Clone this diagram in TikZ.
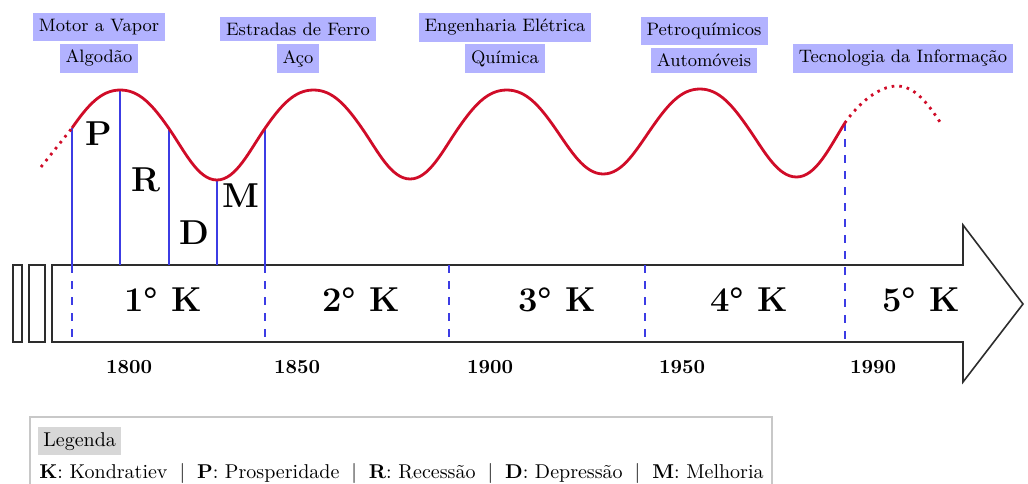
\documentclass[tikz,border=0pt]{standalone}
\usepackage{fontspec}
\usetikzlibrary{positioning}
\definecolor{wave}{RGB}{208,12,40}
\definecolor{phase}{RGB}{60,60,228}
\definecolor{tag}{RGB}{178,178,255}
\definecolor{outl}{RGB}{45,45,45}
\definecolor{leggray}{RGB}{215,215,215}
\definecolor{legline}{RGB}{200,200,200}
\newcommand{\legsep}{\hspace{6pt}$|$\hspace{6pt}}
\begin{document}
\begin{tikzpicture}[x=0.5pt,y=-0.5pt,
  tagbox/.style={fill=tag, inner sep=3pt, font=\small},
  klabel/.style={font=\LARGE\bfseries},
  yearlabel/.style={font=\bfseries},
  phaselabel/.style={font=\LARGE\bfseries},
  phaseline/.style={phase, line width=1.1pt},
  phasedash/.style={phase, line width=1.1pt, dash pattern=on 4pt off 4pt},
  wavepath/.style={wave, line width=1.4pt},
  wavedots/.style={wave, line width=1.4pt, dash pattern=on 1.3pt off 2.5pt},
  arrowline/.style={outl, line width=0.8pt}
]
\useasboundingbox (0,0) rectangle (1028,483);
\clip (0,0) rectangle (1028,483);

% timeline arrow
\coordinate (atop) at (52,265);
\coordinate (abot) at (52,342);
\draw[arrowline, fill=white] (52,265) -- (963,265) -- (963,225) -- (1023,304) -- (963,382) -- (963,342) -- (52,342) -- cycle;
\draw[arrowline] (13,265) rectangle (22,342);
\draw[arrowline] (29,265) rectangle (45,342);

% wave coordinates
\coordinate (w0) at (72,128);
\coordinate (w1) at (120.3,90);
\coordinate (w2) at (168.6,128);
\coordinate (w3) at (216.9,180);
\coordinate (w4) at (265.2,128);
\coordinate (w16) at (844.8,123);
\coordinate (e3) at (449,265);
\coordinate (e4) at (645,265);

% phase lines
\foreach \w in {w0,w1,w2,w3,w4}{
  \draw[phaseline] (\w) -- (\w |- atop);
}
\foreach \w in {w0,w4}{
  \draw[phasedash] (\w |- atop) -- (\w |- abot);
}
\draw[phasedash] (e3) -- (e3 |- abot);
\draw[phasedash] (e4) -- (e4 |- abot);
\draw[phasedash] (w16) -- (w16 |- abot);

% wave
\draw[wavedots] (41,167) -- (w0);
\draw[wavepath, line join=round] (w0)
  .. controls +(16,-23) and +(-19,0) .. (w1)
  .. controls +(19,0) and +(-16,-23) .. (w2)
  .. controls +(16,23) and +(-19,0) .. (w3)
  .. controls +(19,0) and +(-16,23) .. (w4)
  .. controls +(16,-23) and +(-19,0) .. (313.5,90)
  .. controls +(19,0) and +(-16,-23) .. (361.8,128)
  .. controls +(16,23) and +(-19,0) .. (410.1,179)
  .. controls +(19,0) and +(-16,23) .. (458.4,128)
  .. controls +(16,-23) and +(-19,0) .. (506.7,90)
  .. controls +(19,0) and +(-16,-23) .. (555,128)
  .. controls +(16,23) and +(-19,0) .. (603.3,174)
  .. controls +(19,0) and +(-16,23) .. (651.6,128)
  .. controls +(16,-23) and +(-19,0) .. (699.9,89)
  .. controls +(19,0) and +(-16,-23) .. (748.2,128)
  .. controls +(16,23) and +(-19,0) .. (796.5,177)
  .. controls +(19,0) and +(-16,26) .. (w16);
\draw[wavedots] (w16)
  .. controls +(14,-20) and +(-18,0) .. (897,86)
  .. controls +(18,0) and +(-12,-18) .. (940,122);

% phase letters
\node[phaselabel] (P) at (99,134) {P};
\node[phaselabel] (R) at (146,180) {R};
\node[phaselabel] (D) at (194,233) {D};
\node[phaselabel] (M) at (241,196) {M};

% K labels
\node[klabel] (k1) at (163,300) {1° K};
\node[klabel] (k2) at (361,300) {2° K};
\node[klabel] (k3) at (557,300) {3° K};
\node[klabel] (k4) at (749,300) {4° K};
\node[klabel] (k5) at (921,300) {5° K};

% years
\node[yearlabel] (y1) at (129,367) {1800};
\node[yearlabel] (y2) at (297,367) {1850};
\node[yearlabel] (y3) at (490,367) {1900};
\node[yearlabel] (y4) at (682,367) {1950};
\node[yearlabel] (y5) at (873,367) {1990};

% innovation tags
\node[tagbox, anchor=south] (t1b) at (99,73) {Algodão};
\node[tagbox, above=1pt of t1b] (t1a) {Motor a Vapor};
\node[tagbox, anchor=south] (t2b) at (298,73) {Aço};
\node[tagbox, above=1pt of t2b] (t2a) {Estradas de Ferro};
\node[tagbox, anchor=south] (t3b) at (505,73) {Química};
\node[tagbox, above=1pt of t3b] (t3a) {Engenharia Elétrica};
\node[tagbox, anchor=south] (t4b) at (704,73) {Automóveis};
\node[tagbox, above=1pt of t4b] (t4a) {Petroquímicos};
\node[tagbox, anchor=south] (t5) at (903,73) {Tecnologia da Informação};

% legend
\draw[legline, line width=0.6pt] (30,417) rectangle (772,500);
\node[fill=leggray, inner sep=2.5pt, anchor=north west] (leg) at (38,427) {Legenda};
\node[anchor=base west, inner sep=0pt] (legtext) at (39,478)
  {\textbf{K}: Kondratiev\legsep\textbf{P}: Prosperidade\legsep\textbf{R}: Recessão\legsep\textbf{D}: Depressão\legsep\textbf{M}: Melhoria};
\end{tikzpicture}
\end{document}
